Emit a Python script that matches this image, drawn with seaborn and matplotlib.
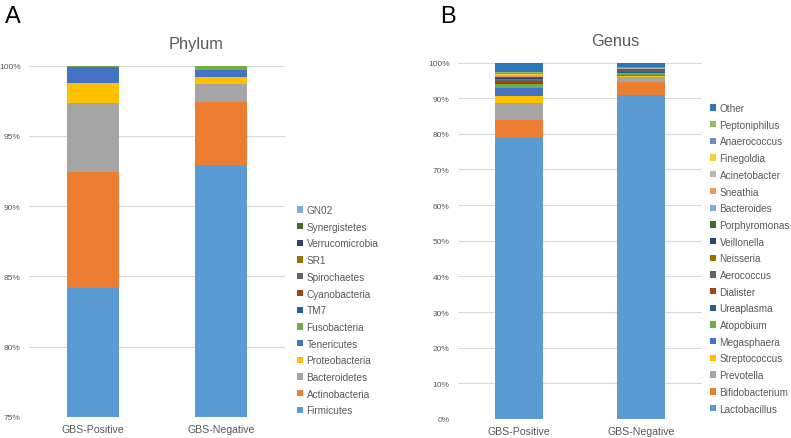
import matplotlib
matplotlib.use("Agg")
import matplotlib.pyplot as plt
from matplotlib.patches import Patch
import numpy as np
import seaborn as sns

groups = ["GBS-Positive", "GBS-Negative"]

phylum_names = ["Firmicutes", "Actinobacteria", "Bacteroidetes", "Proteobacteria",
                "Tenericutes", "Fusobacteria", "TM7", "Cyanobacteria", "Spirochaetes",
                "SR1", "Verrucomicrobia", "Synergistetes", "GN02"]
phylum_pos = [84.2, 8.25, 4.9, 1.4, 1.15, 0.05, 0.02, 0.01, 0.01, 0.005, 0.005, 0.005, 0.005]
phylum_neg = [92.9, 4.5, 1.3, 0.5, 0.5, 0.25, 0.02, 0.01, 0.01, 0.005, 0.005, 0.005, 0.005]
phylum_colors = ["#5B9BD5", "#ED7D31", "#A5A5A5", "#FFC000", "#4472C4", "#70AD47",
                 "#255E91", "#9E480E", "#636363", "#997300", "#264478", "#43682B", "#7CAFDD"]

genus_names = ["Lactobacillus", "Bifidobacterium", "Prevotella", "Streptococcus",
               "Megasphaera", "Atopobium", "Ureaplasma", "Dialister", "Aerococcus",
               "Neisseria", "Veillonella", "Porphyromonas", "Bacteroides", "Sneathia",
               "Acinetobacter", "Finegoldia", "Anaerococcus", "Peptoniphilus", "Other"]
genus_pos = [78.8, 5.1, 4.8, 2.0, 2.1, 1.2, 0.3, 0.5, 0.4, 0.3, 0.2, 0.2, 0.1, 0.3,
             0.3, 0.2, 0.3, 0.2, 2.7]
genus_neg = [91.0, 3.6, 1.2, 0.3, 0.4, 0.5, 0.3, 0.2, 0.3, 0.1, 0.1, 0.1, 0.1, 0.1,
             0.1, 0.1, 0.1, 0.1, 1.4]
genus_colors = ["#5B9BD5", "#ED7D31", "#A5A5A5", "#FFC000", "#4472C4", "#70AD47",
                "#255E91", "#9E480E", "#636363", "#997300", "#264478", "#43682B",
                "#7CAFDD", "#F1975A", "#B7B7B7", "#FFCD33", "#698ED0", "#8CC168", "#2E75B6"]

phylum_ticks = [75, 80, 85, 90, 95, 100]
genus_ticks = list(range(0, 101, 10))

sns.set_theme(style="white")
plt.rcParams['font.family'] = ['Liberation Sans', 'DejaVu Sans']
TXT = "#595959"
GRID = "#D9D9D9"

W, H = 791, 439
fig = plt.figure(figsize=(W / 100, H / 100), dpi=100)
axA = fig.add_axes([29 / W, 1 - 418 / H, 256 / W, (418 - 66.5) / H])
axB = fig.add_axes([458 / W, 1 - 420 / H, 244 / W, (420 - 63.5) / H])


def stacked(ax, pos, neg, colors, width):
    cp = np.cumsum(pos)
    cn = np.cumsum(neg)
    for i in range(len(pos) - 1, -1, -1):
        sns.barplot(x=groups, y=[cp[i], cn[i]], color=colors[i], saturation=1,
                    width=width, linewidth=0, ax=ax, zorder=3)


stacked(axA, phylum_pos, phylum_neg, phylum_colors, 0.4)
stacked(axB, genus_pos, genus_neg, genus_colors, 0.395)

for ax, ticks, lo in [(axA, phylum_ticks, 75), (axB, genus_ticks, 0)]:
    ax.set_ylim(lo, 100)
    ax.set_xlim(-0.5, 1.5)
    ax.set_yticks(ticks)
    ax.set_yticklabels([f"{t}%" for t in ticks], fontsize=6, color=TXT)
    ax.tick_params(axis="x", labelsize=7.6, labelcolor=TXT, length=0, pad=5)
    ax.tick_params(axis="y", length=0, pad=6)
    ax.grid(axis="y", color=GRID, linewidth=0.8, zorder=0)
    ax.set_axisbelow(True)
    for s in ax.spines.values():
        s.set_visible(False)
    ax.set_xlabel("")
    ax.set_ylabel("")

fig.text(196 / W, 1 - 45 / H, "Phylum", ha="center", va="center", fontsize=11.8, color=TXT)
fig.text(615 / W, 1 - 42 / H, "Genus", ha="center", va="center", fontsize=11.8, color=TXT)
fig.text(5 / W, 1 - 17 / H, "A", ha="left", va="center", fontsize=17, color="black")
fig.text(440 / W, 1 - 17 / H, "B", ha="left", va="center", fontsize=17, color="black")


def make_legend(names, colors, x, ytop):
    handles = [Patch(facecolor=c, edgecolor="none", label=n)
               for n, c in zip(names[::-1], colors[::-1])]
    leg = fig.legend(handles=handles, loc="upper left", bbox_to_anchor=(x / W, 1 - ytop / H),
                     frameon=False, fontsize=7.2, labelcolor=TXT, handlelength=0.6,
                     handleheight=0.6, handletextpad=0.35, labelspacing=0.67,
                     borderaxespad=0, borderpad=0)
    return leg


make_legend(phylum_names, phylum_colors, 297, 206)
make_legend(genus_names, genus_colors, 710, 104)

fig.savefig("out.png", dpi=100)
